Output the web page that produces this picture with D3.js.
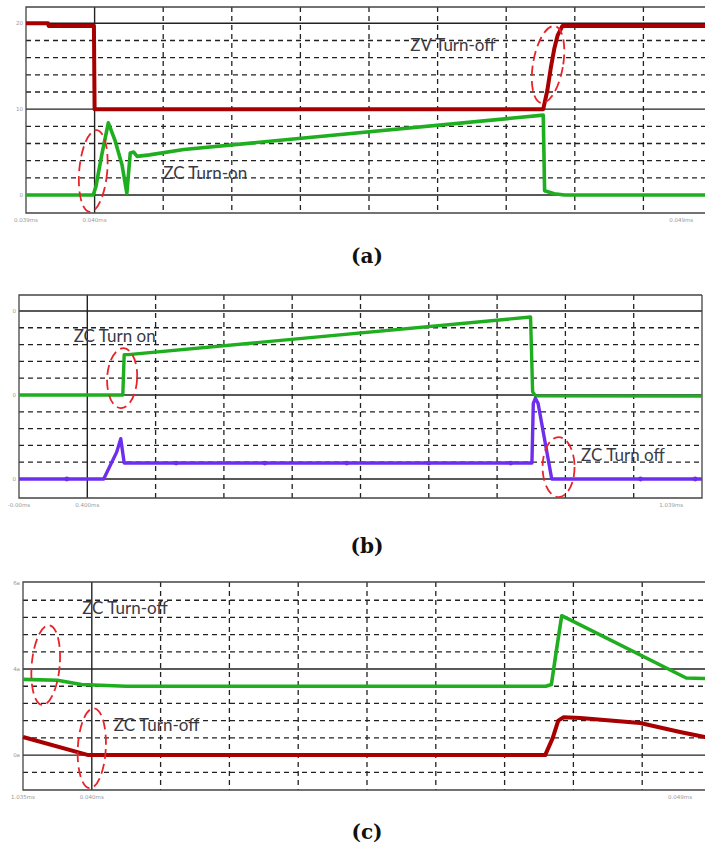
<!DOCTYPE html>
<html>
<head>
<meta charset="utf-8">
<script src="https://cdn.jsdelivr.net/npm/d3@7"></script>
<style>
  body { margin: 0; background: #fff; }
  svg { display: block; }
</style>
</head>
<body>
<div id="vis"></div>
<script>
/* Data: time in grid divisions, values in grid units */
var aRed   = [[0,20],[0.32,20],[0.33,19.7],[0.99,19.7],[1.0,10],[7.54,10],[7.6,12.2],[7.65,14.8],[7.7,17],[7.75,18.6],[7.82,19.7],[10.3,19.7]];
var aGreen = [[0,0],[0.98,0],[1.02,1.0],[1.1,4.5],[1.2,8.4],[1.3,6.3],[1.4,3.5],[1.47,0.2],[1.52,4.9],[1.57,5.0],[1.62,4.5],[1.8,4.67],[2.3,5.3],[7.54,9.3],[7.56,0.5],[7.7,0.15],[7.85,0],[10.3,0]];

var bGreen  = [[0,5],[1.52,5],[1.54,7.4],[1.6,7.4],[7.49,9.64],[7.52,5.2],[7.56,4.95],[10,4.93]];
var bPurple = [[0,0],[1.24,0],[1.43,1.6],[1.49,2.4],[1.54,0.95],[7.51,0.95],[7.53,4.5],[7.56,4.8],[7.6,4.5],[7.8,0],[10,0]];
var bPurpleMarks = [0.7, 2.3, 3.6, 4.8, 6.0, 7.2, 9.1, 9.9];

var cGreen = [[0,4.4],[0.5,4.35],[0.85,4.1],[1.5,4.0],[7.6,4.0],[7.68,4.1],[7.75,6.0],[7.83,8.1],[9.64,4.48],[9.9,4.45],[10.3,4.4]];
var cRed   = [[0,1.05],[0.95,0],[7.59,0],[7.7,1.0],[7.78,2.0],[7.86,2.2],[8.1,2.15],[8.97,1.86],[9.55,1.34],[9.91,1.05],[10.3,0.75]];

/* Tick labels */
var aYTicks = ["0", "10", "20"];
var bYTicks = ["0", "0", "0"];
var cYTicks = ["0a", "4a", "6a"];
var aXTicks = ["0.039ms", "0.040ms", "0.049ms"];
var bXTicks = ["-0.00ms", "0.400ms", "1.039ms"];
var cXTicks = ["1.035ms", "0.040ms", "0.049ms"];

/* Annotations: [text, t, value] and ellipses: [t, value, rx, ry, tilt] */
var aNotes = [["ZV Turn-off", 5.6, 17.5], ["ZC Turn-on", 2.0, 2.6]];
var aRings = [[0.98, 2.8, 14, 41, 5], [7.61, 15.2, 15, 39, 10]];
var bNotes = [["ZC Turn on", 0.8, 8.5], ["ZC Turn off", 8.23, 1.43]];
var bRings = [[1.51, 6.0, 15, 30, 3], [7.9, 0.71, 16, 30, 0]];
var cNotes = [["ZC Turn-off", 0.86, 8.55], ["ZC Turn-off", 1.32, 1.74]];
var cRings = [[0.33, 5.23, 14, 40, 5], [1.0, 0.4, 14, 40, 3]];

var W = 705, H = 847;
var red = "#a80000", green = "#1fae1f", purple = "#6d2ef0";

var svg = d3.select("#vis").append("svg").attr("width", W).attr("height", H);
svg.append("defs").append("clipPath").attr("id", "page")
    .append("rect").attr("width", W).attr("height", H);

/* panel layout */
var panels = [
    { top: 7,   bottom: 213, left: 26, step: 68.6, yDomain: [-2.1, 21.9], major: [0, 10, 20], minorStep: 2,
      yTicks: aYTicks, xTicks: aXTicks, caption: "(a)", capY: 263,
      traces: [[aRed, red, 4], [aGreen, green, 3.6]], notes: aNotes, rings: aRings, frameRight: false },
    { top: 295, bottom: 498, left: 19, step: 68.3, yDomain: [-1.13, 10.95], major: [0, 5, 10], minorStep: 1,
      yTicks: bYTicks, xTicks: bXTicks, caption: "(b)", capY: 553,
      traces: [[bGreen, green, 3.4], [bPurple, purple, 3.4]], notes: bNotes, rings: bRings, frameRight: true },
    { top: 582, bottom: 790, left: 23, step: 68.8, yDomain: [-2.03, 10.06], major: [0, 5, 10], minorStep: 1,
      yTicks: cYTicks, xTicks: cXTicks, caption: "(c)", capY: 839,
      traces: [[cGreen, green, 3.6], [cRed, red, 4]], notes: cNotes, rings: cRings, frameRight: false }
];

panels.forEach(function (p, pi) {
    var g = svg.append("g").attr("clip-path", "url(#page)");
    var x = d3.scaleLinear().domain([0, 10]).range([p.left, p.left + 10 * p.step]);
    var y = d3.scaleLinear().domain(p.yDomain).range([p.bottom, p.top]);
    var right = Math.min(x(10), W + 20);

    // minor horizontal dashed lines
    var minors = d3.range(Math.ceil(p.yDomain[0] / p.minorStep) * p.minorStep, p.yDomain[1], p.minorStep)
        .filter(function (v) { return p.major.indexOf(v) < 0 && y(v) > p.top + 3 && y(v) < p.bottom - 3; });
    g.selectAll(".hminor").data(minors).enter().append("line")
        .attr("x1", p.left).attr("x2", right)
        .attr("y1", function (d) { return y(d); }).attr("y2", function (d) { return y(d); })
        .attr("stroke", "#222").attr("stroke-width", 1.3).attr("stroke-dasharray", "5,4");

    // vertical grid
    g.selectAll(".vgrid").data(d3.range(1, 10)).enter().append("line")
        .attr("x1", function (d) { return x(d); }).attr("x2", function (d) { return x(d); })
        .attr("y1", p.top).attr("y2", p.bottom)
        .attr("stroke", "#222")
        .attr("stroke-width", function (d) { return d === 1 ? 1.4 : 1.3; })
        .attr("stroke-dasharray", function (d) { return d === 1 ? null : "5,4"; });

    // major horizontal lines
    g.selectAll(".hmajor").data(p.major.filter(function (v) { return y(v) > p.top + 3; })).enter().append("line")
        .attr("x1", p.left).attr("x2", right)
        .attr("y1", function (d) { return y(d); }).attr("y2", function (d) { return y(d); })
        .attr("stroke", "#222").attr("stroke-width", 1.4);

    // frame
    g.append("path")
        .attr("d", "M" + right + "," + p.top + "H" + p.left + "V" + p.bottom + "H" + right + (p.frameRight ? "V" + p.top : ""))
        .attr("fill", "none").attr("stroke", "#444").attr("stroke-width", 1.3);

    // tiny tick labels
    g.selectAll(".ylab").data(p.major).enter().append("text")
        .attr("x", p.left - 3).attr("y", function (d) { return y(d) + 2; })
        .attr("text-anchor", "end").attr("font-family", "DejaVu Sans").attr("font-size", 5.5)
        .attr("fill", "#999")
        .text(function (d, i) { return p.yTicks[i]; });
    var xPos = [0, 1, 9.55];
    g.selectAll(".xlab").data(p.xTicks).enter().append("text")
        .attr("x", function (d, i) { return x(xPos[i]); }).attr("y", p.bottom + 9)
        .attr("text-anchor", "middle").attr("font-family", "DejaVu Sans").attr("font-size", 5.5)
        .attr("fill", "#999")
        .text(function (d) { return d; });

    // traces
    var line = d3.line().x(function (d) { return x(d[0]); }).y(function (d) { return y(d[1]); });
    p.traces.forEach(function (tr) {
        g.append("path").datum(tr[0]).attr("d", line)
            .attr("fill", "none").attr("stroke", tr[1]).attr("stroke-width", tr[2])
            .attr("stroke-linejoin", "round");
    });

    if (pi === 1) {
        g.selectAll(".mk").data(bPurpleMarks).enter().append("circle")
            .attr("cx", function (d) { return x(d); })
            .attr("cy", function (d) { return y(d < 7.5 && d > 1.6 ? 0.95 : 0); })
            .attr("r", 2.4).attr("fill", purple);
    }

    // dashed ellipses
    g.selectAll(".ring").data(p.rings).enter().append("ellipse")
        .attr("cx", 0).attr("cy", 0)
        .attr("rx", function (d) { return d[2]; }).attr("ry", function (d) { return d[3]; })
        .attr("transform", function (d) { return "translate(" + x(d[0]) + "," + y(d[1]) + ") rotate(" + d[4] + ")"; })
        .attr("fill", "none").attr("stroke", "#e8242a").attr("stroke-width", 1.8)
        .attr("stroke-dasharray", "10,5");

    // annotation text
    g.selectAll(".note").data(p.notes).enter().append("text")
        .attr("x", function (d) { return x(d[1]); }).attr("y", function (d) { return y(d[2]); })
        .attr("dy", "0.35em")
        .attr("font-family", "Lato, 'Open Sans', sans-serif").attr("font-size", 17)
        .attr("fill", "#3a3a44")
        .text(function (d) { return d[0]; });

    // caption
    svg.append("text")
        .attr("x", 367).attr("y", p.capY)
        .attr("text-anchor", "middle")
        .attr("font-family", "'DejaVu Serif', serif").attr("font-weight", "bold").attr("font-size", 20)
        .attr("fill", "#111")
        .text(p.caption);
});
</script>
</body>
</html>
